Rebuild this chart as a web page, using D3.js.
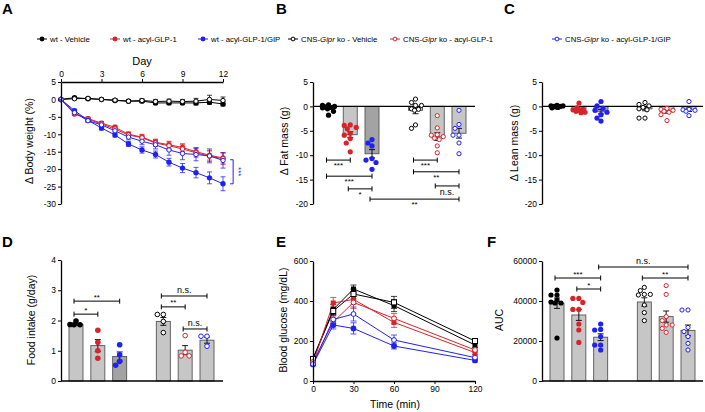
<!DOCTYPE html>
<html>
<head>
<meta charset="utf-8">
<script src="https://cdn.jsdelivr.net/npm/d3@7"></script>
<style>
  body { margin: 0; background: #fff; }
  svg { font-family: "Liberation Sans", Arial, Helvetica, sans-serif; }
</style>
</head>
<body>
<script>
// ---------------- data ----------------
// A: body weight change (%) per day
const days = [0, 1, 2, 3, 4, 5, 6, 7, 8, 9, 10, 11, 12];
const bw_wtVeh = [0, 0.5, 0.2, 0, -0.3, -0.5, -0.5, -1.0, -1.0, -1.0, -1.0, -0.8, -1.3];
const bw_koVeh = [0, 0.2, 0.3, 0, -0.2, -0.5, -0.3, -0.6, -0.5, -0.6, -0.5, 0, -0.3];
const bw_wtGlp = [0, -4.2, -5.5, -6.8, -8.0, -10.0, -10.8, -12.3, -13.0, -13.8, -15.0, -16.0, -16.8];
const bw_koGlp = [0, -4.0, -5.7, -7.0, -8.5, -10.2, -11.0, -12.5, -13.3, -14.2, -15.3, -16.3, -17.0];
const bw_wtGip = [0, -3.2, -6.0, -8.2, -10.2, -12.8, -14.5, -15.8, -18.0, -19.7, -21.0, -22.5, -24.2];
const bw_koGip = [0, -3.8, -6.1, -7.3, -9.0, -10.8, -12.0, -13.0, -14.5, -15.5, -15.8, -16.2, -17.5];
const bwSem_wtVeh = [0, 0.3, 0.3, 0.3, 0.3, 0.4, 0.4, 0.5, 0.5, 0.5, 0.6, 0.6, 0.6];
const bwSem_koVeh = [0, 0.3, 0.3, 0.3, 0.4, 0.4, 0.5, 0.6, 0.6, 0.6, 0.8, 1.2, 1.0];
const bwSem_wtGlp = [0, 0.4, 0.5, 0.5, 0.6, 0.7, 0.8, 0.9, 1.0, 1.1, 1.2, 1.4, 1.5];
const bwSem_koGlp = [0, 0.4, 0.5, 0.6, 0.6, 0.7, 0.8, 1.0, 1.1, 1.2, 1.3, 1.5, 1.7];
const bwSem_wtGip = [0, 0.4, 0.5, 0.6, 0.6, 0.7, 0.9, 1.0, 1.1, 1.3, 1.5, 1.7, 2.0];
const bwSem_koGip = [0, 0.4, 0.5, 0.6, 0.7, 0.8, 1.0, 1.2, 1.5, 1.8, 1.8, 2.0, 2.2];
const dayTicks = [0, 3, 6, 9, 12];
const bwTicks = [5, 0, -5, -10, -15, -20, -25, -30];

// bar groups (the "gap" slot separates wt and ko)
const groups = ["wt-veh", "wt-glp", "wt-gip", "gap", "ko-veh", "ko-glp", "ko-gip"];
const barKeys = ["wt-veh", "wt-glp", "wt-gip", "ko-veh", "ko-glp", "ko-gip"];

// B: fat mass change (g)
const fat_mean = [-0.3, -5.8, -9.7, -0.8, -6.2, -5.5];
const fat_sem = [0.25, 0.6, 0.85, 0.7, 0.8, 1.0];
const fat_points = [
  [0.3, 0.2, 0, -0.1, -0.2, -0.3, -0.5, -1.0, -1.8],
  [-3.8, -3.9, -4.3, -4.6, -5.5, -5.9, -6.6, -7.5, -9.3],
  [-6.8, -7.5, -8.1, -10.7, -11.0, -11.5, -12.9],
  [1.5, 0.8, 0.2, 0.2, -0.5, -0.6, -0.8, -3.8, -4.5],
  [-1.9, -4.4, -5.8, -5.9, -6.2, -6.5, -6.8, -8.1, -9.5],
  [-0.8, -3.7, -4.5, -5.9, -5.9, -7.5, -9.7]
];
// C: lean mass change (g)
const lean_mean = [-0.1, -0.6, -1.1, -0.5, -1.1, -0.7];
const lean_sem = [0.08, 0.25, 0.45, 0.4, 0.3, 0.35];
const lean_points = [
  [0.2, 0.1, 0.1, 0, 0, -0.1, -0.2, -0.3],
  [0.7, -0.3, -0.6, -0.7, -0.8, -1.0, -1.2, -1.3],
  [1.0, 0.1, -0.4, -0.8, -1.2, -1.7, -2.4, -3.0],
  [0.8, 0.4, 0.1, -0.2, -0.5, -0.7, -2.4, -2.4],
  [-0.4, -0.6, -0.8, -1.0, -1.2, -1.7, -2.9],
  [1.0, -0.6, -0.7, -0.8, -1.0, -1.9]
];
const massTicks = [5, 0, -5, -10, -15, -20];

// D: food intake (g/day)
const food_mean = [1.87, 1.17, 0.81, 1.97, 1.02, 1.35];
const food_sem = [0.03, 0.2, 0.15, 0.13, 0.15, 0.1];
const food_points = [
  [1.98, 1.87, 1.86, 1.86],
  [1.68, 1.28, 1.0, 0.75],
  [1.2, 0.87, 0.65, 0.52],
  [2.2, 2.2, 1.97, 1.6],
  [1.5, 0.95, 0.83, 0.83],
  [1.48, 1.48, 1.15]
];
const foodTicks = [0, 1, 2, 3, 4];

// E: blood glucose (mg/dL) during OGTT
const ogttTimes = [0, 15, 30, 60, 120];
const glc_wtVeh = [113, 358, 460, 377, 180];
const glc_koVeh = [110, 350, 435, 393, 200];
const glc_wtGlp = [88, 390, 408, 293, 142];
const glc_koGlp = [95, 295, 393, 313, 155];
const glc_wtGip = [83, 280, 263, 175, 103];
const glc_koGip = [85, 308, 335, 205, 117];
const glcSem_wtVeh = [8, 25, 20, 30, 12];
const glcSem_koVeh = [8, 20, 25, 30, 12];
const glcSem_wtGlp = [8, 28, 25, 25, 10];
const glcSem_koGlp = [8, 25, 30, 25, 10];
const glcSem_wtGip = [6, 20, 28, 15, 8];
const glcSem_koGip = [6, 20, 35, 25, 8];
const timeTicks = [0, 30, 60, 90, 120];
const glcTicks = [0, 200, 400, 600];

// F: AUC
const auc_mean = [38900, 33000, 21900, 39500, 32200, 25300];
const auc_sem = [2600, 2700, 1700, 2100, 2800, 2700];
const auc_points = [
  [45500, 43000, 43000, 40500, 39500, 39000, 39000, 21500],
  [41300, 41300, 39300, 35800, 35800, 28500, 25500, 19300],
  [28500, 25800, 25500, 22200, 18000, 18000, 15500],
  [46800, 45200, 43300, 43300, 43000, 38000, 34200, 30200],
  [47700, 43300, 32200, 30200, 28000, 28000, 26300, 24300],
  [35500, 35500, 26800, 24700, 22200, 18800, 15500]
];
const aucTicks = [0, 20000, 40000, 60000];

// significance brackets: [from bar, to bar, y value, label]
const fat_sig = [[0, 1, -11.0, "***"], [0, 2, -14.3, "***"], [1, 2, -16.9, "*"], [2, 5, -19.0, "**"],
                 [3, 4, -11.0, "***"], [3, 5, -13.4, "**"], [4, 5, -16.3, "n.s."]];
const food_sig = [[0, 1, 2.21, "*"], [0, 2, 2.64, "**"], [3, 4, 2.45, "**"], [3, 5, 2.81, "n.s."], [4, 5, 1.72, "n.s."]];
const auc_sig = [[2, 5, 57000, "n.s."], [0, 2, 51500, "***"], [3, 5, 51500, "**"], [1, 2, 46000, "*"]];

// legend labels
const legendNames = ["wt - Vehicle", "wt - acyl-GLP-1", "wt - acyl-GLP-1/GIP",
                     "CNS-|Gipr| ko - Vehicle", "CNS-|Gipr| ko  - acyl-GLP-1", "CNS-|Gipr| ko  - acyl-GLP-1/GIP"];

// ---------------- style ----------------
const RED = "#d8232a";
const BLUE = "#2020f5";
const barColor = ["#000", RED, BLUE, "#000", RED, BLUE];
const barOpen = [false, false, false, true, true, true];

const svg = d3.select("body").append("svg")
  .attr("width", 705)
  .attr("height", 412);

// axis styling
function styleAxis(g) {
  g.select(".domain").attr("stroke", "#000").attr("stroke-width", 1.3);
  g.selectAll(".tick line").attr("stroke", "#000").attr("stroke-width", 1);
  g.selectAll(".tick text").attr("font-size", 8.5).attr("fill", "#000")
    .attr("font-family", "Liberation Sans, Arial, sans-serif");
}

function yAxis(scale, x, ticks, fmt) {
  const g = svg.append("g")
    .attr("transform", "translate(" + x + ",0)")
    .call(d3.axisLeft(scale).tickValues(ticks).tickSize(3).tickSizeOuter(0).tickPadding(2)
      .tickFormat(fmt || function (d) { return String(d); }));
  styleAxis(g);
  return g;
}

function yLabel(text, x, y) {
  svg.append("text")
    .attr("transform", "translate(" + x + "," + y + ") rotate(-90)")
    .attr("text-anchor", "middle")
    .attr("font-size", 10.5)
    .text(text);
}

function panelLetter(t, x, y) {
  svg.append("text").attr("x", x).attr("y", y)
    .attr("font-size", 15).attr("font-weight", "bold").text(t);
}

// place dots of a group inside the bar width, overlapping a bit when crowded
function swarm(vals, y, r) {
  const idx = d3.range(vals.length).sort(function (a, b) { return d3.descending(vals[a], vals[b]); });
  const cands = [0, -2, 2, -4, 4, -6, 6, -1, 1, -3, 3, -5, 5];
  const placed = [];
  const off = new Array(vals.length);
  idx.forEach(function (i) {
    const py = y(vals[i]);
    let best = 0, bestD = -1;
    for (let k = 0; k < cands.length; k++) {
      const dx = cands[k];
      let dmin = 1e9;
      placed.forEach(function (p) {
        dmin = Math.min(dmin, Math.hypot(p.x - dx, p.y - py));
      });
      if (dmin >= r * 1.9) { best = dx; bestD = dmin; break; }
      if (dmin > bestD) { bestD = dmin; best = dx; }
    }
    off[i] = best;
    placed.push({ x: best, y: py });
  });
  return off;
}

function dot(g, cx, cy, r, color, open) {
  g.append("circle")
    .attr("cx", cx).attr("cy", cy).attr("r", open ? r - 0.5 : r)
    .attr("fill", open ? "#fff" : color)
    .attr("stroke", color)
    .attr("stroke-width", open ? 1 : 0);
}

// bar + scatter panel
function barPanel(o) {
  const g = svg.append("g");
  const x = d3.scalePoint().domain(groups).range(o.xr);
  const y = o.y;
  const bw = 14;

  // bars
  g.selectAll("rect.bar")
    .data(barKeys)
    .enter().append("rect")
    .attr("x", function (d) { return x(d) - bw / 2; })
    .attr("width", bw)
    .attr("y", function (d, i) { return Math.min(y(o.mean[i]), y(0)); })
    .attr("height", function (d, i) { return Math.abs(y(o.mean[i]) - y(0)); })
    .attr("fill", function (d, i) { return (i == 2 && o.darkGip) ? "#a3a3a3" : "#c6c6c6"; })
    .attr("stroke", "#555")
    .attr("stroke-width", 0.9);

  // baseline
  g.append("line")
    .attr("x1", o.axisX).attr("x2", o.lineEnd)
    .attr("y1", y(0)).attr("y2", y(0))
    .attr("stroke", "#000").attr("stroke-width", 1.3);

  // error bars (sem)
  barKeys.forEach(function (k, i) {
    const cx = x(k);
    const y1 = y(o.mean[i] - o.sem[i]);
    const y2 = y(o.mean[i] + o.sem[i]);
    g.append("line").attr("x1", cx).attr("x2", cx).attr("y1", y1).attr("y2", y2)
      .attr("stroke", "#000").attr("stroke-width", 0.9);
    [y1, y2].forEach(function (yy) {
      g.append("line").attr("x1", cx - 3).attr("x2", cx + 3).attr("y1", yy).attr("y2", yy)
        .attr("stroke", "#000").attr("stroke-width", 0.9);
    });
  });

  // dots
  barKeys.forEach(function (k, i) {
    const off = swarm(o.points[i], y, o.r);
    o.points[i].forEach(function (v, j) {
      dot(g, x(k) + off[j], y(v), o.r, barColor[i], barOpen[i]);
    });
  });

  // brackets
  (o.sig || []).forEach(function (s) {
    const x1 = x(barKeys[s[0]]) - 2;
    const x2 = x(barKeys[s[1]]) + 0;
    const yy = y(s[2]);
    g.append("line").attr("x1", x1).attr("x2", x2).attr("y1", yy).attr("y2", yy)
      .attr("stroke", "#000").attr("stroke-width", 1);
    [x1, x2].forEach(function (xx) {
      g.append("line").attr("x1", xx).attr("x2", xx).attr("y1", yy - 2.5).attr("y2", yy + 2.5)
        .attr("stroke", "#000").attr("stroke-width", 1);
    });
    const isNs = s[3] == "n.s.";
    g.append("text")
      .attr("x", (x1 + x2) / 2)
      .attr("y", o.below ? yy + (isNs ? 9 : 8) : yy - (isNs ? 3 : 1.5))
      .attr("text-anchor", "middle")
      .attr("font-size", isNs ? 9 : 8)
      .text(s[3]);
  });

  yAxis(y, o.axisX, o.ticks, o.fmt);
}

// line + error panel
function linePanel(g, xs, series, x, y, capW, markerFor) {
  series.forEach(function (s) {
    const line = d3.line()
      .x(function (d, i) { return x(xs[i]); })
      .y(function (d) { return y(d); });
    g.append("path").datum(s.v)
      .attr("d", line)
      .attr("fill", "none")
      .attr("stroke", s.color)
      .attr("stroke-width", 1);
    s.v.forEach(function (v, i) {
      if (s.e[i] <= 0) return;
      const cx = x(xs[i]);
      const y1 = y(v - s.e[i]);
      const y2 = y(v + s.e[i]);
      g.append("line").attr("x1", cx).attr("x2", cx).attr("y1", y1).attr("y2", y2)
        .attr("stroke", s.color).attr("stroke-opacity", 0.75).attr("stroke-width", 1);
      [y1, y2].forEach(function (yy) {
        g.append("line").attr("x1", cx - capW).attr("x2", cx + capW).attr("y1", yy).attr("y2", yy)
          .attr("stroke", s.color).attr("stroke-opacity", 0.75).attr("stroke-width", 1);
      });
    });
  });
  series.forEach(function (s) {
    s.v.forEach(function (v, i) {
      markerFor(g, x(xs[i]), y(v), s);
    });
  });
}

// ---------------- legend ----------------
const legendX = [42, 115, 203, 293, 395, 557];
legendNames.forEach(function (name, i) {
  const g = svg.append("g").attr("transform", "translate(" + legendX[i] + ",39)");
  g.append("line").attr("x1", -5).attr("x2", 5).attr("y1", 0).attr("y2", 0)
    .attr("stroke", barColor[i]).attr("stroke-width", 1);
  dot(g, 0, 0, 2.4, barColor[i], barOpen[i]);
  const t = g.append("text").attr("x", 8).attr("y", 3).attr("font-size", 7.8);
  name.split("|").forEach(function (part, j) {
    t.append("tspan").attr("font-style", j == 1 ? "italic" : "normal").text(part);
  });
});

// ---------------- A ----------------
panelLetter("A", 2, 14);
const xA = d3.scaleLinear().domain([0, 12]).range([61, 223]);
const yA = d3.scaleLinear().domain([-30, 5]).range([204, 82]);
const gA = svg.append("g");
const bwSeries = [
  { v: bw_wtVeh, e: bwSem_wtVeh, color: "#000", open: false },
  { v: bw_koVeh, e: bwSem_koVeh, color: "#000", open: true },
  { v: bw_wtGlp, e: bwSem_wtGlp, color: RED, open: false },
  { v: bw_koGlp, e: bwSem_koGlp, color: RED, open: true },
  { v: bw_wtGip, e: bwSem_wtGip, color: BLUE, open: false },
  { v: bw_koGip, e: bwSem_koGip, color: BLUE, open: true }
];
linePanel(gA, days, bwSeries, xA, yA, 2.5, function (g, cx, cy, s) {
  dot(g, cx, cy, 2.7, s.color, s.open);
});
const axA = svg.append("g").attr("transform", "translate(0," + yA(5) + ")")
  .call(d3.axisTop(xA).tickValues(dayTicks).tickSize(3).tickSizeOuter(0).tickPadding(2));
styleAxis(axA);
yAxis(yA, 61, bwTicks);
svg.append("text").attr("x", 142).attr("y", 65).attr("text-anchor", "middle")
  .attr("font-size", 11).text("Day");
yLabel("\u0394 Body weight (%)", 33, 141);
// wt GLP-1/GIP vs the other drug groups
const brA = gA.append("g").attr("stroke", BLUE).attr("stroke-width", 1);
const bx = xA(12.75);
brA.append("line").attr("x1", bx).attr("x2", bx).attr("y1", yA(-17.3)).attr("y2", yA(-24.2));
brA.append("line").attr("x1", bx - 3).attr("x2", bx).attr("y1", yA(-17.3)).attr("y2", yA(-17.3));
brA.append("line").attr("x1", bx - 3).attr("x2", bx).attr("y1", yA(-24.2)).attr("y2", yA(-24.2));
svg.append("text")
  .attr("transform", "translate(" + (bx + 3) + "," + yA(-20.75) + ") rotate(90)")
  .attr("text-anchor", "middle").attr("font-size", 8).attr("fill", BLUE).text("***");

// ---------------- B ----------------
panelLetter("B", 276, 14);
barPanel({
  xr: [328.5, 459], y: d3.scaleLinear().domain([-20, 5]).range([204, 82]),
  axisX: 313, lineEnd: 475, mean: fat_mean, sem: fat_sem, points: fat_points,
  r: 2.6, sig: fat_sig, below: true, ticks: massTicks, darkGip: true
});
yLabel("\u0394 Fat mass (g)", 288, 141);

// ---------------- C ----------------
panelLetter("C", 504, 14);
barPanel({
  xr: [557, 689], y: d3.scaleLinear().domain([-20, 5]).range([204, 82]),
  axisX: 542, lineEnd: 703, mean: lean_mean, sem: lean_sem, points: lean_points,
  r: 2.6, ticks: massTicks, darkGip: true
});
yLabel("\u0394 Lean mass (g)", 518, 143);

// ---------------- D ----------------
panelLetter("D", 2, 247);
barPanel({
  xr: [76, 207], y: d3.scaleLinear().domain([0, 4]).range([381, 260]),
  axisX: 61, lineEnd: 223, mean: food_mean, sem: food_sem, points: food_points,
  r: 2.8, sig: food_sig, below: false, ticks: foodTicks, darkGip: true
});
yLabel("Food intake (g/day)", 35, 320);

// ---------------- E ----------------
panelLetter("E", 276, 247);
const xE = d3.scaleLinear().domain([0, 120]).range([313, 475]);
const yE = d3.scaleLinear().domain([0, 600]).range([381, 261]);
const gE = svg.append("g");
const glcSeries = [
  { v: glc_wtVeh, e: glcSem_wtVeh, color: "#000", open: false, sq: true },
  { v: glc_koVeh, e: glcSem_koVeh, color: "#000", open: true, sq: true },
  { v: glc_wtGlp, e: glcSem_wtGlp, color: RED, open: false, sq: true },
  { v: glc_koGlp, e: glcSem_koGlp, color: RED, open: true, sq: false },
  { v: glc_wtGip, e: glcSem_wtGip, color: BLUE, open: false, sq: false },
  { v: glc_koGip, e: glcSem_koGip, color: BLUE, open: true, sq: false }
];
linePanel(gE, ogttTimes, glcSeries, xE, yE, 3, function (g, cx, cy, s) {
  if (s.sq) {
    g.append("rect").attr("x", cx - 2.5).attr("y", cy - 2.5).attr("width", 5).attr("height", 5)
      .attr("fill", s.open ? "#fff" : s.color).attr("stroke", s.color).attr("stroke-width", s.open ? 1 : 0);
  } else {
    dot(g, cx, cy, 2.9, s.color, s.open);
  }
});
const axE = svg.append("g").attr("transform", "translate(0," + yE(0) + ")")
  .call(d3.axisBottom(xE).tickValues(timeTicks).tickSize(3).tickSizeOuter(0).tickPadding(2));
styleAxis(axE);
yAxis(yE, 313, glcTicks);
svg.append("text").attr("x", 395).attr("y", 408).attr("text-anchor", "middle")
  .attr("font-size", 10.5).text("Time (min)");
yLabel("Blood glucose (mg/dL)", 287, 320);

// ---------------- F ----------------
panelLetter("F", 487, 247);
barPanel({
  xr: [557, 688], y: d3.scaleLinear().domain([0, 60000]).range([381, 261]),
  axisX: 542, lineEnd: 703, mean: auc_mean, sem: auc_sem, points: auc_points,
  r: 2.6, sig: auc_sig, below: false, ticks: aucTicks, darkGip: false
});
yLabel("AUC", 503, 320);
</script>
</body>
</html>
